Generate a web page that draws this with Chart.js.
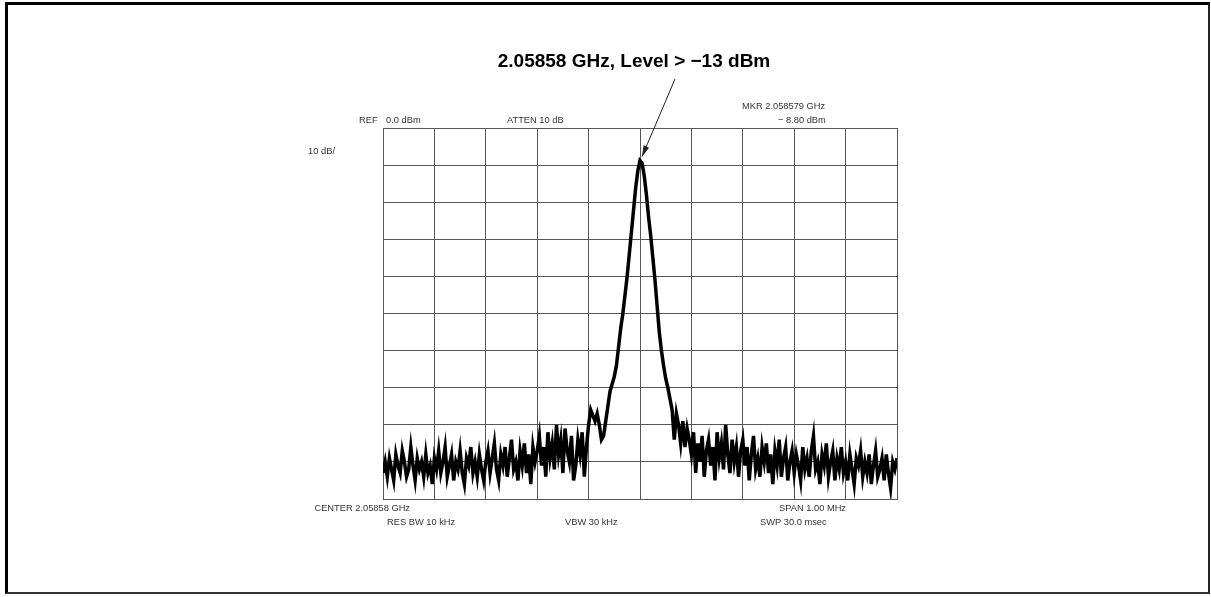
<!DOCTYPE html>
<html>
<head>
<meta charset="utf-8">
<script src="https://cdn.jsdelivr.net/npm/chart.js@4.4.1/dist/chart.umd.min.js"></script>
<style>
  html, body { margin: 0; padding: 0; background: #fff; }
  #wrap { position: relative; width: 1211px; height: 597px; }
  #frame { position: absolute; left: 5px; top: 2px; width: 1200px; height: 587px;
           border-top: 3px solid #000; border-left: 3px solid #000;
           border-right: 2px solid #222; border-bottom: 2px solid #333; pointer-events: none; }
  canvas { position: absolute; left: 0; top: 0; }
</style>
</head>
<body>
<div id="wrap">
  <canvas id="spectrum" width="1211" height="597"></canvas>
  <div id="frame"></div>
</div>
<script>
// Sweep settings (kHz offset from centre, dBm)
const SPAN_KHZ = 1000;
const REF_LEVEL = 0;
const DB_PER_DIV = 10;
const MARKER_LEVEL = -8.8;

// Trace, left noise floor / carrier / right noise floor
const levelsBelow = [
    -93, -90, -94, -89, -92, -95, -88, -91, -93, -87, -90, -94,
    -92, -86, -91, -95, -89, -92, -90, -94, -88, -93, -91, -96,
    -89, -92, -87, -93, -90, -86, -94, -91, -88, -95, -90, -92,
    -87, -93, -96, -89, -91, -86, -93, -90, -94, -88, -92, -95,
    -90, -87, -93, -89, -85, -92, -95, -88, -91, -86, -94, -89,
    -84, -92, -90, -95, -87, -91, -85, -93, -88, -96, -86, -90,
    -87, -83, -91, -86, -94, -82, -89, -85, -92, -80, -88, -84,
    -93, -81, -87, -90, -83, -95, -91, -84, -88, -82, -94, -86
];
const levelsPeak = [
    -80, -76, -77.5, -79, -77, -80, -84, -83, -79, -75, -71, -69,
    -67, -64, -59, -54, -50, -45, -40, -34, -28, -22, -16, -11.5,
    -8.8, -9.5, -13, -18, -24, -29, -35, -41, -48, -55, -60, -64,
    -67.5, -70, -73, -76, -84, -77
];
const levelsAbove = [
    -80, -85, -79, -86, -81, -84,
    -88, -82, -93, -85, -90, -83, -94, -87, -84, -91, -86, -95,
    -82, -89, -85, -92, -80, -88, -93, -84, -90, -86, -94, -87,
    -84, -91, -86, -95, -88, -83, -92, -89, -94, -86, -90, -85,
    -93, -88, -96, -87, -91, -84, -94, -89, -86, -95, -90, -87,
    -93, -88, -91, -95, -86, -92, -89, -94, -87, -83, -92, -90,
    -96, -88, -91, -85, -94, -90, -87, -95, -89, -92, -86, -93,
    -90, -95, -88, -92, -96, -89, -91, -87, -94, -90, -93, -88,
    -96, -91, -87, -94, -92, -89, -95, -88, -93, -97, -90, -92, -89
];

const levels = levelsBelow.concat(levelsPeak, levelsAbove);
const trace = levels.map((v, i) => ({
    x: -SPAN_KHZ / 2 + i * SPAN_KHZ / (levels.length - 1),
    y: v
}));

const FONT = '"Liberation Sans", Arial, sans-serif';

// Analyzer readouts and the marker callout
const annotations = {
    id: 'annotations',
    afterDraw(chart) {
        const { ctx, scales: { x, y } } = chart;
        ctx.save();
        ctx.textBaseline = 'middle';

        ctx.fillStyle = '#000';
        ctx.font = 'bold 19px ' + FONT;
        ctx.textAlign = 'center';
        ctx.fillText('2.05858 GHz, Level > \u221213 dBm', 634, 62);

        ctx.fillStyle = '#333';
        ctx.font = '9.3px ' + FONT;
        ctx.textAlign = 'left';
        ctx.fillText('REF', 359, 120);
        ctx.fillText('0.0 dBm', 386, 120);
        ctx.fillText('ATTEN 10 dB', 507, 120);
        ctx.fillText('MKR 2.058579 GHz', 742, 106);
        ctx.fillText('\u2212 8.80 dBm', 778, 120);
        ctx.fillText('SPAN 1.00 MHz', 779, 508);
        ctx.fillText('RES BW 10 kHz', 387, 522);
        ctx.fillText('VBW 30 kHz', 565, 522);
        ctx.fillText('SWP 30.0 msec', 760, 522);
        ctx.textAlign = 'right';
        ctx.fillText('10 dB/', 335, 151);
        ctx.fillText('CENTER 2.05858 GHz', 410, 508);

        // arrow from the caption down to the marker peak
        const x0 = 675, y0 = 79;
        const x1 = x.getPixelForValue(0) + 2;
        const y1 = y.getPixelForValue(MARKER_LEVEL) - 4;
        const ang = Math.atan2(y1 - y0, x1 - x0);
        ctx.strokeStyle = '#222';
        ctx.fillStyle = '#222';
        ctx.lineWidth = 1;
        ctx.beginPath();
        ctx.moveTo(x0, y0);
        ctx.lineTo(x1, y1);
        ctx.stroke();
        ctx.beginPath();
        ctx.moveTo(x1, y1);
        ctx.lineTo(x1 - 11 * Math.cos(ang) + 3 * Math.sin(ang), y1 - 11 * Math.sin(ang) - 3 * Math.cos(ang));
        ctx.lineTo(x1 - 11 * Math.cos(ang) - 3 * Math.sin(ang), y1 - 11 * Math.sin(ang) + 3 * Math.cos(ang));
        ctx.closePath();
        ctx.fill();
        ctx.restore();
    }
};

const ctx = document.getElementById('spectrum').getContext('2d');
new Chart(ctx, {
    type: 'line',
    data: {
        datasets: [{
            data: trace,
            borderColor: '#000',
            borderWidth: 3.5,
            pointRadius: 0,
            tension: 0,
            fill: false
        }]
    },
    options: {
        responsive: false,
        animation: false,
        devicePixelRatio: 1,
        layout: { padding: { left: 383, right: 314, top: 128, bottom: 98 } },
        plugins: {
            legend: { display: false },
            tooltip: { enabled: false }
        },
        scales: {
            x: {
                type: 'linear',
                min: -SPAN_KHZ / 2,
                max: SPAN_KHZ / 2,
                ticks: { display: false, stepSize: SPAN_KHZ / 10 },
                grid: { color: '#555', lineWidth: 1, drawTicks: false },
                border: { display: true, color: '#555', width: 1 }
            },
            y: {
                min: REF_LEVEL - 10 * DB_PER_DIV,
                max: REF_LEVEL,
                ticks: { display: false, stepSize: DB_PER_DIV },
                grid: { color: '#555', lineWidth: 1, drawTicks: false },
                border: { display: true, color: '#555', width: 1 }
            }
        }
    },
    plugins: [annotations]
});
</script>
</body>
</html>
